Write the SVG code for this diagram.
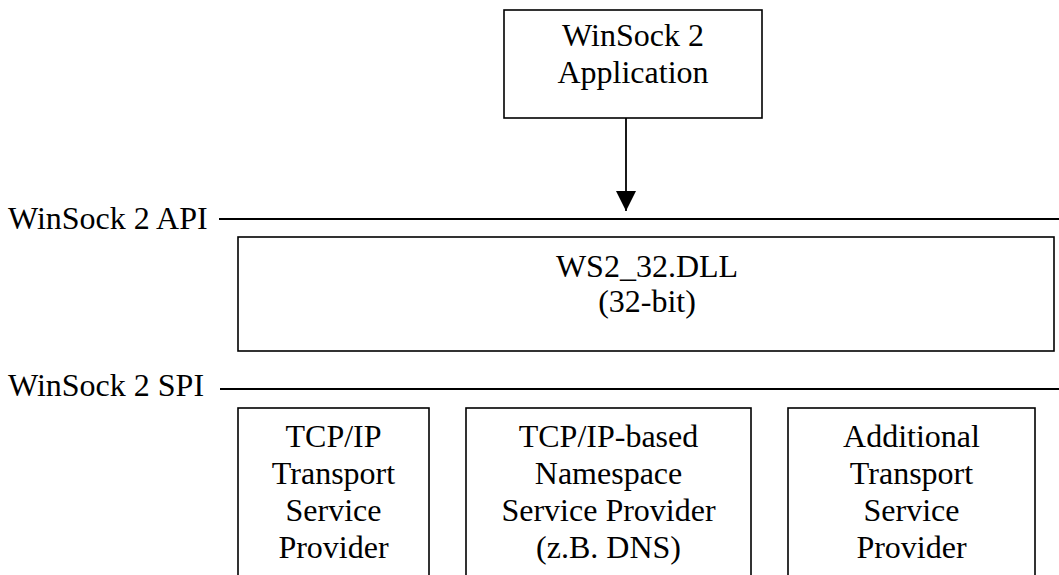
<svg xmlns="http://www.w3.org/2000/svg" width="1059" height="575" viewBox="0 0 1059 575">
  <style>
    .box { fill: #ffffff; stroke: #000000; stroke-width: 1.6; }
    .rule { stroke: #000000; stroke-width: 1.8; fill: none; }
    .lbl { font-family: "Liberation Serif", "Times New Roman", serif; font-size: 32px; fill: #000000; }
    .c { text-anchor: middle; }
  </style>
  <defs>
    <marker id="arrowhead" markerUnits="userSpaceOnUse" markerWidth="20" markerHeight="20" refX="20" refY="10" orient="auto">
      <path d="M0,0 L20,10 L0,20 Z" fill="#000000"/>
    </marker>
  </defs>
  <rect width="1059" height="575" fill="#ffffff"/>

  <!-- layer boundaries -->
  <g id="layers">
    <text class="lbl" x="8" y="229">WinSock 2 API</text>
    <line class="rule" x1="219" y1="219" x2="1059" y2="219"/>
    <text class="lbl" x="8" y="396">WinSock 2 SPI</text>
    <line class="rule" x1="220" y1="389" x2="1059" y2="389"/>
  </g>

  <g id="app">
    <rect class="box" x="504" y="10" width="258" height="108"/>
    <text class="lbl c" x="633" y="46">WinSock 2</text>
    <text class="lbl c" x="633" y="83">Application</text>
  </g>

  <g id="ws2_32">
    <rect class="box" x="238" y="237" width="816" height="114"/>
    <text class="lbl c" x="647" y="277">WS2_32.DLL</text>
    <text class="lbl c" x="647" y="312">(32-bit)</text>
  </g>

  <g id="tcpip-transport">
    <rect class="box" x="238" y="408" width="191" height="180"/>
    <text class="lbl c" x="333.5" y="447">TCP/IP</text>
    <text class="lbl c" x="333.5" y="484">Transport</text>
    <text class="lbl c" x="333.5" y="521">Service</text>
    <text class="lbl c" x="333.5" y="558">Provider</text>
  </g>

  <g id="namespace-provider">
    <rect class="box" x="466" y="408" width="285" height="180"/>
    <text class="lbl c" x="608.5" y="447">TCP/IP-based</text>
    <text class="lbl c" x="608.5" y="484">Namespace</text>
    <text class="lbl c" x="608.5" y="521">Service Provider</text>
    <text class="lbl c" x="608.5" y="558">(z.B. DNS)</text>
  </g>

  <g id="additional-transport">
    <rect class="box" x="788" y="408" width="247" height="180"/>
    <text class="lbl c" x="911.5" y="447">Additional</text>
    <text class="lbl c" x="911.5" y="484">Transport</text>
    <text class="lbl c" x="911.5" y="521">Service</text>
    <text class="lbl c" x="911.5" y="558">Provider</text>
  </g>

  <g id="connectors">
    <line class="rule" x1="626" y1="118" x2="626" y2="211" marker-end="url(#arrowhead)"/>
  </g>
</svg>
